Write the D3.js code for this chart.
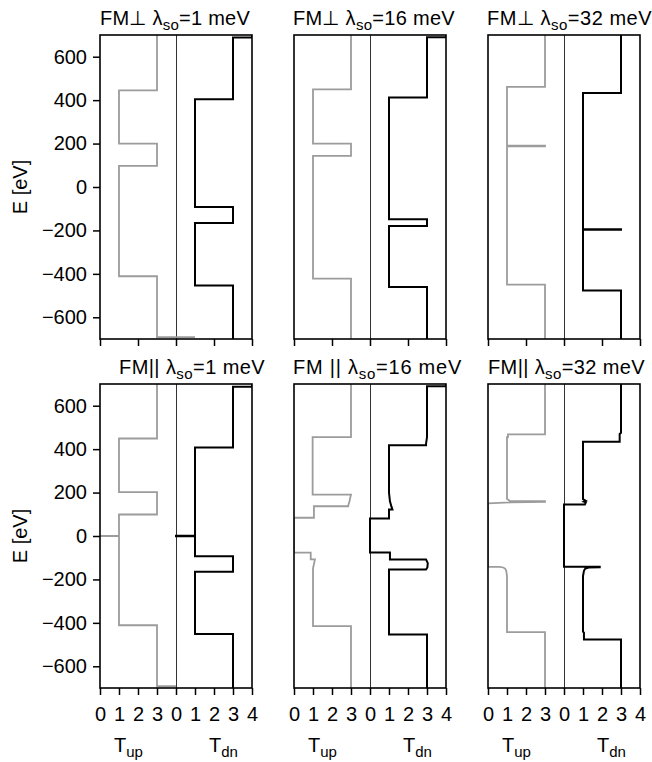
<!DOCTYPE html>
<html>
<head>
<meta charset="utf-8">
<script src="https://cdn.jsdelivr.net/npm/d3@7"></script>
<style>
  body { margin: 0; background: #fff; }
  svg { display: block; }
  text { font-family: "Liberation Sans", Arial, Helvetica, sans-serif; fill: #000; }
</style>
</head>
<body>
<svg id="chart" width="652" height="762"></svg>
<script>
// Transmission vs. energy, each series as [E (eV), T] points, ordered from high to low E.
// Spin-up transmission is plotted on 0..4, spin-down is shifted by 4 onto 4..8.

// FM perpendicular, lambda_so = 1 meV
const perp1Up = [[700,3],[445,3],[445,1],[200,1],[200,3],[97,3],[97,1],[-411,1],[-411,3],[-691,3],[-691,5]];
const perp1Dn = [[700,4],[688,4],[688,3],[404,3],[404,1],[-92,1],[-92,3],[-166,3],[-166,1],[-454,1],[-454,3],[-700,3]];

// FM perpendicular, lambda_so = 16 meV
const perp16Up = [[700,3],[450,3],[450,1],[200,1],[200,3],[143,3],[143,1],[-422,1],[-422,3],[-700,3]];
const perp16Dn = [[700,4],[690,4],[690,3],[412,3],[412,1],[-148,1],[-148,3],[-180,3],[-180,1],[-460,1],[-460,3],[-700,3]];

// FM perpendicular, lambda_so = 32 meV
const perp32Up = [[700,3],[461,3],[461,1],[190,1],[190,3],[187,3],[187,1],[-450,1],[-450,3],[-700,3]];
const perp32Dn = [[700,3],[433,3],[433,1],[-195,1],[-195,3],[-197,3],[-197,1],[-477,1],[-477,3],[-700,3]];

// FM parallel, lambda_so = 1 meV
const par1Up = [[700,3],[449,3],[449,1],[202,1],[202,3],[99,3],[99,1],[1,1],[1,0],[-1,0],[-1,1],[-411,1],[-411,3],[-692,3],[-692,4]];
const par1Dn = [[700,4],[687,4],[687,3],[408,3],[408,1],[1,1],[1,0],[-1,0],[-1,1],[-93,1],[-93,3],[-165,3],[-165,1],[-451,1],[-451,3],[-700,3]];

// FM parallel, lambda_so = 16 meV
const par16Up = [[700,3],[455,3],[455,0.98],[191,0.98],[191,3],[180,2.97],[160,2.92],[145,2.87],[137,2.85],[137,1.05],[84,1.05],[84,0],
                 [-77,0],[-77,0.88],[-108,0.88],[-108,1.1],[-125,1.06],[-145,1.01],[-154,1],[-415,1],[-415,3],[-700,3]];
const par16Dn = [[700,4],[690,4],[690,3],[455,3],[425,2.95],[418,2.95],[418,1],[200,1],[160,1.05],[135,1.13],[122,1.18],[122,1],[81,1],[81,0],
                 [-76,0],[-76,1.05],[-108,1.05],[-108,2.95],[-125,3.04],[-145,3.02],[-154,2.95],[-154,1],[-454,1],[-454,3],[-700,3]];

// FM parallel, lambda_so = 32 meV
const par32Up = [[700,3],[468,3],[468,1.05],[455,1.05],[455,1],[170,1],[162,1.15],[160,3],[157,3],[155,1.2],[150,0],
                 [-142,0],[-142,0.6],[-145,0.8],[-150,0.9],[-160,0.96],[-185,1],[-443,1],[-443,3],[-700,3]];
const par32Dn = [[700,3],[475,3],[470,2.93],[434,2.93],[434,1],[170,1],[162,1.15],[158,1.05],[155,1.15],[145,1.1],[145,0],
                 [-142,0],[-142,1.88],[-144,1.88],[-145,1.3],[-150,1.12],[-160,1.05],[-185,1],[-440,1],[-445,1.05],[-477,1.05],[-477,3],[-700,3]];

// Panel titles and axis ticks
const titlePrefix = ["FM\u22A5 ", "FM\u22A5 ", "FM\u22A5 ", "FM|| ", "FM || ", "FM|| "];
const lambdaValues = [1, 16, 32, 1, 16, 32];
const energyTicks = [600, 400, 200, 0, -200, -400, -600];
const tPositions = [0, 1, 2, 3, 4, 5, 6, 7, 8];
const tLabels = ["0", "1", "2", "3", "0", "1", "2", "3", "4"];
const tTitles = [{pos: 1.5, main: "T", sub: "up"}, {pos: 6.5, main: "T", sub: "dn"}];

const series = [
  [perp1Up, perp1Dn], [perp16Up, perp16Dn], [perp32Up, perp32Dn],
  [par1Up, par1Dn], [par16Up, par16Dn], [par32Up, par32Dn]
];

const svg = d3.select("#chart");
const panelW = 152, panelH = 304;
const colX = [100, 294, 488];
const rowY = [35, 384];
const titleX = [[100, 293, 487], [119, 293, 488]];
const titleW = [[150, 162, 165], [146, 169, 157]];
const titleY = [25, 374];
const FS = 20;

const x = d3.scaleLinear().domain([0, 8]).range([0, panelW]);
const y = d3.scaleLinear().domain([-700, 700]).range([panelH, 0]);

const line = d3.line().x(d => d[0]).y(d => y(d[1]));

series.forEach((pair, i) => {
  const row = Math.floor(i / 3), col = i % 3;
  const g = svg.append("g").attr("transform", `translate(${colX[col]},${rowY[row]})`);

  // clip region for the curves
  const clipId = "clip" + i;
  g.append("clipPath").attr("id", clipId)
    .append("rect").attr("width", panelW).attr("height", panelH);

  // divider between spin-up and spin-down halves
  g.append("line")
    .attr("x1", x(4) + 0.5).attr("x2", x(4) + 0.5).attr("y1", 0).attr("y2", panelH)
    .attr("stroke", "#333").attr("stroke-width", 1);

  const plot = g.append("g").attr("clip-path", `url(#${clipId})`);
  plot.append("path")
    .attr("d", line(pair[0].map(p => [x(p[1]), p[0]])))
    .attr("fill", "none").attr("stroke", "#9c9c9c").attr("stroke-width", 1.8);
  plot.append("path")
    .attr("d", line(pair[1].map(p => [x(4 + p[1]), p[0]])))
    .attr("fill", "none").attr("stroke", "#000").attr("stroke-width", 2);

  // frame
  g.append("rect").attr("width", panelW).attr("height", panelH)
    .attr("fill", "none").attr("stroke", "#000").attr("stroke-width", 1.6);

  // y axis on the left column
  if (col === 0) {
    const ya = g.append("g").call(
      d3.axisLeft(y).tickValues(energyTicks).tickSize(7).tickPadding(6).tickSizeOuter(0)
    );
    ya.select(".domain").remove();
    ya.selectAll("line").attr("stroke", "#000").attr("stroke-width", 1.5);
    ya.selectAll("text").attr("font-size", FS).attr("font-family", null);
    svg.append("text")
      .attr("transform", `translate(27,${rowY[row] + panelH / 2}) rotate(-90)`)
      .attr("text-anchor", "middle").attr("font-size", FS)
      .text("E [eV]");
  }

  // x axis
  const xa = g.append("g").attr("transform", `translate(0,${panelH})`);
  if (row === 0) {
    xa.call(d3.axisBottom(x).tickValues([0, 2, 4, 6, 8]).tickSize(7).tickFormat("").tickSizeOuter(0));
  } else {
    xa.call(d3.axisBottom(x).tickValues(tPositions).tickSize(7).tickPadding(12).tickSizeOuter(0)
      .tickFormat((d, k) => tLabels[k]));
    xa.selectAll("text").attr("font-size", FS).attr("font-family", null);
    tTitles.forEach(t => {
      const tx = g.append("text")
        .attr("x", x(t.pos)).attr("y", panelH + 64)
        .attr("text-anchor", "middle").attr("font-size", FS);
      tx.append("tspan").text(t.main);
      tx.append("tspan").attr("font-size", 15).attr("dy", 5).text(t.sub);
    });
  }
  xa.select(".domain").remove();
  xa.selectAll("line").attr("stroke", "#000").attr("stroke-width", 1.5);

  // title, stretched to its printed width
  const tt = svg.append("text")
    .attr("x", titleX[row][col]).attr("y", titleY[row])
    .attr("font-size", FS);
  tt.append("tspan").text(titlePrefix[i] + "\u03BB");
  tt.append("tspan").attr("font-size", 15).attr("dy", 5).text("so");
  tt.append("tspan").attr("dy", -5).text("=" + lambdaValues[i] + " meV");
  const w = tt.node().getComputedTextLength();
  const extra = titleW[row][col] - w;
  const nChars = tt.text().length;
  if (extra > 0) tt.attr("letter-spacing", (extra / nChars).toFixed(2));
});
</script>
</body>
</html>
